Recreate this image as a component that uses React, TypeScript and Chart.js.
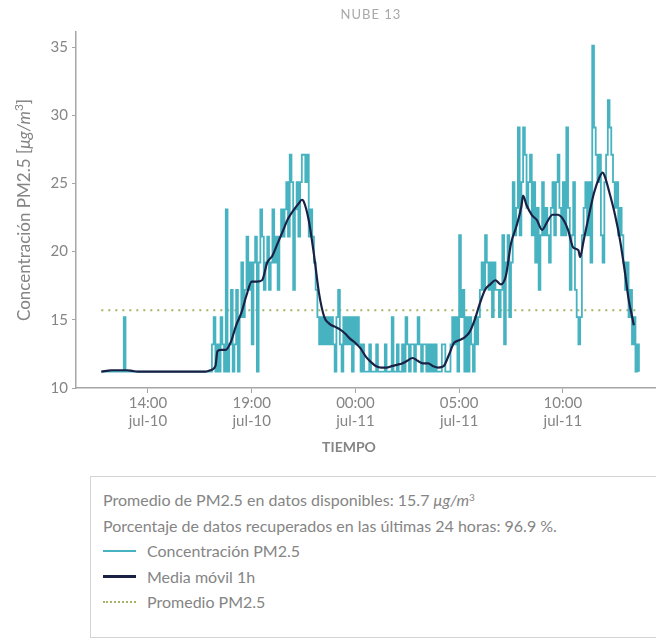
import React, { useEffect, useRef } from 'react';
import { Chart, registerables } from 'chart.js';

Chart.register(...registerables);

const FONT = 'Lato, "Noto Sans", sans-serif';

const chartTitle = 'NUBE 13';
const xAxisTitle = 'TIEMPO';
const yTitleMain = 'Concentración PM2.5 [';
const yTitleUnit = 'μg/m';
const yTitleSup = '3';
const yTitleEnd = ']';

// hours counted from jul-10 00:00
const concStartHour = 11.75;
const concStepMinutes = 5;
const concValues = [
  // 11:45
  11.2, 11.2, 11.2,
  // 12
  11.2, 11.2, 11.2, 11.2, 11.2, 11.2, 11.2, 11.2, 11.2, 11.2, 15.2, 11.2,
  // 13
  11.2, 11.2, 11.2, 11.2, 11.2, 11.2, 11.2, 11.2, 11.2, 11.2, 11.2, 11.2,
  // 14
  11.2, 11.2, 11.2, 11.2, 11.2, 11.2, 11.2, 11.2, 11.2, 11.2, 11.2, 11.2,
  // 15
  11.2, 11.2, 11.2, 11.2, 11.2, 11.2, 11.2, 11.2, 11.2, 11.2, 11.2, 11.2,
  // 16
  11.2, 11.2, 11.2, 11.2, 11.2, 11.2, 11.2, 11.2, 11.2, 11.2, 11.2, 11.2,
  // 17
  11.2, 13.2, 15.2, 11.2, 13.2, 11.2, 15.2, 13.2, 11.2, 23.1, 11.2, 13.2,
  // 18
  17.2, 11.2, 13.2, 17.2, 11.2, 15.2, 19.2, 15.2, 17.2, 21.1, 17.2, 19.2,
  // 19
  13.2, 19.2, 21.1, 11.2, 19.2, 23.1, 21.1, 17.2, 19.2, 21.1, 17.2, 19.2,
  // 20
  23.1, 19.2, 21.1, 17.2, 21.1, 23.1, 21.1, 23.1, 25.1, 21.1, 27.1, 25.1,
  // 21
  17.2, 23.1, 25.1, 21.1, 25.1, 27.1, 27.1, 25.1, 27.1, 21.1, 23.1, 21.1,
  // 22
  19.2, 17.2, 15.2, 13.2, 15.2, 13.2, 15.2, 13.2, 15.2, 13.2, 15.2, 13.2,
  // 23
  11.2, 15.2, 17.2, 13.2, 11.2, 15.2, 13.2, 15.2, 13.2, 15.2, 11.2, 15.2,
  // 00
  13.2, 15.2, 13.2, 11.2, 13.2, 11.2, 11.2, 11.2, 13.2, 11.2, 11.2, 11.2,
  // 01
  13.2, 11.2, 11.2, 11.2, 11.2, 13.2, 11.2, 11.2, 11.2, 15.2, 11.2, 11.2,
  // 02
  13.2, 11.2, 11.2, 13.2, 11.2, 15.2, 13.2, 11.2, 13.2, 13.2, 11.2, 13.2,
  // 03
  15.2, 13.2, 11.2, 13.2, 13.2, 11.2, 13.2, 11.2, 13.2, 11.2, 13.2, 11.2,
  // 04
  11.2, 11.2, 13.2, 13.2, 11.2, 11.2, 11.2, 13.2, 15.2, 13.2, 15.2, 11.2,
  // 05
  21.2, 15.2, 17.2, 11.2, 15.2, 11.2, 15.2, 13.2, 11.2, 15.2, 13.2, 15.2,
  // 06
  17.2, 19.2, 17.2, 21.2, 19.2, 17.2, 19.2, 15.2, 19.2, 17.2, 17.2, 15.2,
  // 07
  17.2, 21.2, 13.2, 19.2, 21.2, 15.2, 19.2, 25.1, 21.2, 23.2, 29.1, 21.2,
  // 08
  25.1, 29.1, 27.1, 23.2, 25.1, 27.1, 21.2, 25.1, 19.2, 23.2, 17.2, 21.2,
  // 09
  25.1, 21.2, 23.2, 21.2, 19.2, 23.2, 25.1, 21.2, 25.1, 27.1, 23.2, 21.2,
  // 10
  25.1, 21.2, 29.1, 23.2, 17.2, 21.2, 25.1, 17.2, 15.2, 13.2, 15.2, 21.2,
  // 11
  23.2, 25.1, 21.2, 25.1, 19.2, 35.1, 29.1, 27.1, 25.1, 27.1, 21.2, 19.2,
  // 12
  25.1, 27.1, 31.1, 29.1, 27.1, 25.1, 23.2, 25.1, 21.2, 23.2, 21.2, 19.2,
  // 13
  17.2, 19.2, 15.2, 17.2, 13.2, 15.2, 11.2, 13.2, 11.2,
];

const maHours = [
  11.75, 12.0, 12.25, 12.5, 12.75, 13.0, 13.25, 13.5, 14.0, 15.0, 16.0, 16.75,
  17.0, 17.25, 17.35, 17.5, 17.75, 18.0, 18.25, 18.5, 18.75, 19.0, 19.25, 19.5,
  19.75, 20.0, 20.25, 20.5, 20.75, 21.0, 21.25, 21.42, 21.5, 21.75, 22.0, 22.25,
  22.5, 22.75, 23.0, 23.25, 23.5, 23.75, 24.0, 24.25, 24.5, 24.75, 25.0, 25.25,
  25.5, 25.75, 26.0, 26.25, 26.5, 26.75, 27.0, 27.25, 27.5, 27.75, 28.0, 28.25,
  28.5, 28.75, 29.0, 29.25, 29.5, 29.75, 30.0, 30.25, 30.5, 30.75, 31.0, 31.25,
  31.5, 31.75, 32.0, 32.08, 32.25, 32.5, 32.75, 33.0, 33.25, 33.5, 33.75, 34.0,
  34.25, 34.5, 34.75, 34.83, 35.0, 35.25, 35.5, 35.75, 35.92, 36.0, 36.25, 36.5,
  36.75, 37.0, 37.17, 37.33, 37.42,
];
const maValues = [
  11.2, 11.25, 11.3, 11.3, 11.3, 11.3, 11.25, 11.2, 11.2, 11.2, 11.2, 11.2,
  11.3, 11.6, 12.7, 12.8, 12.8, 13.4, 14.6, 15.5, 16.8, 17.8, 17.8, 17.9,
  19.2, 19.7, 20.6, 21.5, 22.4, 23.0, 23.5, 23.8, 23.7, 22.3, 19.8, 16.9,
  15.2, 14.7, 14.5, 14.3, 14.0, 13.6, 13.3, 12.9, 12.3, 11.9, 11.6, 11.5,
  11.5, 11.6, 11.7, 11.8, 12.0, 12.2, 12.0, 11.8, 11.8, 11.6, 11.5, 11.6,
  12.4, 13.3, 13.5, 13.7, 14.1, 15.0, 16.2, 17.2, 17.6, 17.9, 17.6, 18.2,
  20.6, 21.8, 23.3, 24.1, 23.4, 22.7, 22.3, 21.6, 22.2, 22.7, 22.7, 22.4,
  21.6, 20.3, 20.1, 19.6, 20.8, 22.6, 24.3, 25.4, 25.8, 25.6, 24.3, 22.8,
  20.9, 18.4, 16.5, 15.3, 14.6,
];

const avgValue = 15.7;
const avgHours = [11.75, 37.67];
const recoveredPct = 96.9;

const xTickHours = [14, 19, 24, 29, 34];
const dayLabels = ['jul-10', 'jul-11'];
const yTickValues = [10, 15, 20, 25, 30, 35];

const legendConc = 'Concentración PM2.5';
const legendMa = 'Media móvil 1h';
const legendAvg = 'Promedio PM2.5';

const COLOR_CONC = '#47b3c1';
const COLOR_MA = '#1b2145';
const COLOR_AVG = '#a3b466';
const COLOR_TEXT = '#858585';
const COLOR_AXIS = '#a6a6a6';

function fmtTick(v: number): string[] {
  const h = Math.round(v) % 24;
  const day = v >= 24 ? dayLabels[1] : dayLabels[0];
  return [String(h).padStart(2, '0') + ':00', day];
}

const titlesPlugin = {
  id: 'richTitles',
  afterDraw(chart: any) {
    const ctx = chart.ctx;
    const ca = chart.chartArea;
    const size = 17;
    const parts = [
      { t: yTitleMain, f: `${size}px ${FONT}`, dy: 0 },
      { t: yTitleUnit, f: `italic ${size}px ${FONT}`, dy: 0 },
      { t: yTitleSup, f: `${Math.round(size * 0.7)}px ${FONT}`, dy: -6 },
      { t: yTitleEnd, f: `${size}px ${FONT}`, dy: 0 },
    ];
    ctx.save();
    let total = 0;
    const widths = parts.map((p) => {
      ctx.font = p.f;
      const w = ctx.measureText(p.t).width;
      total += w;
      return w;
    });
    ctx.translate(25, (ca.top + ca.bottom) / 2);
    ctx.rotate(-Math.PI / 2);
    ctx.fillStyle = COLOR_TEXT;
    ctx.textBaseline = 'middle';
    ctx.textAlign = 'left';
    let x = -total / 2;
    parts.forEach((p, i) => {
      ctx.font = p.f;
      ctx.fillText(p.t, x, p.dy);
      x += widths[i];
    });
    ctx.restore();

    // x axis title
    ctx.save();
    ctx.font = `bold 14px ${FONT}`;
    ctx.fillStyle = COLOR_TEXT;
    ctx.textAlign = 'center';
    ctx.textBaseline = 'middle';
    ctx.fillText(xAxisTitle, 349, 447);
    ctx.restore();
  },
};

function ChartView() {
  const ref = useRef<HTMLCanvasElement>(null);
  useEffect(() => {
    if (!ref.current) return;
    const concData = concValues.map((v, i) => ({ x: concStartHour + (i * concStepMinutes) / 60, y: v }));
    const maData = maHours.map((h, i) => ({ x: h, y: maValues[i] }));
    const avgData = avgHours.map((h) => ({ x: h, y: avgValue }));
    const chart = new Chart(ref.current, {
      type: 'line',
      data: {
        datasets: [
          {
            label: legendAvg,
            data: avgData,
            borderColor: COLOR_AVG,
            borderWidth: 2,
            borderDash: [2, 5],
            pointRadius: 0,
            fill: false,
            order: 3,
          },
          {
            label: legendConc,
            data: concData,
            borderColor: COLOR_CONC,
            borderWidth: 1.8,
            pointRadius: 0,
            stepped: true,
            fill: false,
            order: 2,
          },
          {
            label: legendMa,
            data: maData,
            borderColor: COLOR_MA,
            borderWidth: 2.2,
            pointRadius: 0,
            cubicInterpolationMode: 'monotone',
            fill: false,
            order: 1,
          },
        ],
      },
      options: {
        responsive: false,
        maintainAspectRatio: false,
        animation: false,
        parsing: false,
        layout: { padding: { top: 32, right: 0, left: 0, bottom: 0 } },
        plugins: {
          legend: { display: false },
          tooltip: { enabled: false },
          title: { display: false },
        },
        scales: {
          x: {
            type: 'linear',
            min: 10.53,
            max: 38.49,
            afterBuildTicks: (s: any) => {
              s.ticks = xTickHours.map((v) => ({ value: v }));
            },
            afterFit: (s: any) => {
              s.height = 70;
            },
            grid: { drawOnChartArea: false, drawTicks: true, tickLength: 5, color: COLOR_AXIS },
            border: { color: COLOR_AXIS, width: 1.5 },
            ticks: {
              callback: (v: any) => fmtTick(Number(v)),
              color: COLOR_TEXT,
              font: { family: FONT, size: 15 },
              padding: 1,
              maxRotation: 0,
              autoSkip: false,
            },
            title: { display: false },
          },
          y: {
            type: 'linear',
            min: 10,
            max: 36.1,
            afterBuildTicks: (s: any) => {
              s.ticks = yTickValues.map((v) => ({ value: v }));
            },
            afterFit: (s: any) => {
              s.width = 76;
            },
            grid: { drawOnChartArea: false, drawTicks: true, tickLength: 4, color: COLOR_AXIS },
            border: { color: COLOR_AXIS, width: 1.5 },
            ticks: {
              color: COLOR_TEXT,
              font: { family: FONT, size: 15 },
              padding: 4,
            },
          },
        },
      },
      plugins: [titlesPlugin],
    } as any);
    return () => chart.destroy();
  }, []);
  return <canvas ref={ref} width={656} height={458} style={{ position: 'absolute', left: 0, top: 0 }} />;
}

function LegendLine({ kind }: { kind: 'conc' | 'ma' | 'avg' }) {
  if (kind === 'avg') {
    return (
      <div
        style={{
          width: 33,
          height: 0,
          borderTop: `2px dotted ${COLOR_AVG}`,
        }}
      />
    );
  }
  return (
    <div
      style={{
        width: 33,
        height: kind === 'ma' ? 3 : 2,
        background: kind === 'ma' ? COLOR_MA : COLOR_CONC,
      }}
    />
  );
}

export default function App() {
  const rowStyle = (top: number): React.CSSProperties => ({
    position: 'absolute',
    top,
    left: 12,
    height: 20,
    lineHeight: '20px',
    whiteSpace: 'nowrap',
    display: 'flex',
    alignItems: 'center',
  });
  const items: { kind: 'conc' | 'ma' | 'avg'; label: string }[] = [
    { kind: 'conc', label: legendConc },
    { kind: 'ma', label: legendMa },
    { kind: 'avg', label: legendAvg },
  ];
  return (
    <div
      style={{
        position: 'absolute',
        left: 0,
        top: 0,
        width: 656,
        height: 641,
        overflow: 'hidden',
        background: '#fff',
        fontFamily: FONT,
        color: COLOR_TEXT,
      }}
    >
      <ChartView />
      <div
        style={{
          position: 'absolute',
          left: 371,
          top: 14,
          transform: 'translate(-50%, -50%)',
          fontSize: 13,
          letterSpacing: 1,
          color: '#a8a8a8',
          whiteSpace: 'nowrap',
        }}
      >
        {chartTitle}
      </div>
      <div
        style={{
          position: 'absolute',
          left: 90,
          top: 476,
          width: 600,
          height: 162,
          border: '1px solid #d4d4d4',
          boxSizing: 'border-box',
          fontSize: 16,
        }}
      >
        <div style={rowStyle(13)}>
          Promedio de PM2.5 en datos disponibles: {String(avgValue)}&nbsp;
          <i>μg/m</i>
          <sup style={{ fontSize: 10, position: 'relative', top: -3 }}>3</sup>
        </div>
        <div style={rowStyle(39)}>
          Porcentaje de datos recuperados en las últimas 24 horas: {String(recoveredPct)} %.
        </div>
        {items.map((it, i) => (
          <div key={it.kind} style={rowStyle(64 + i * 25.5)}>
            <LegendLine kind={it.kind} />
            <span style={{ marginLeft: 11 }}>{it.label}</span>
          </div>
        ))}
      </div>
    </div>
  );
}
